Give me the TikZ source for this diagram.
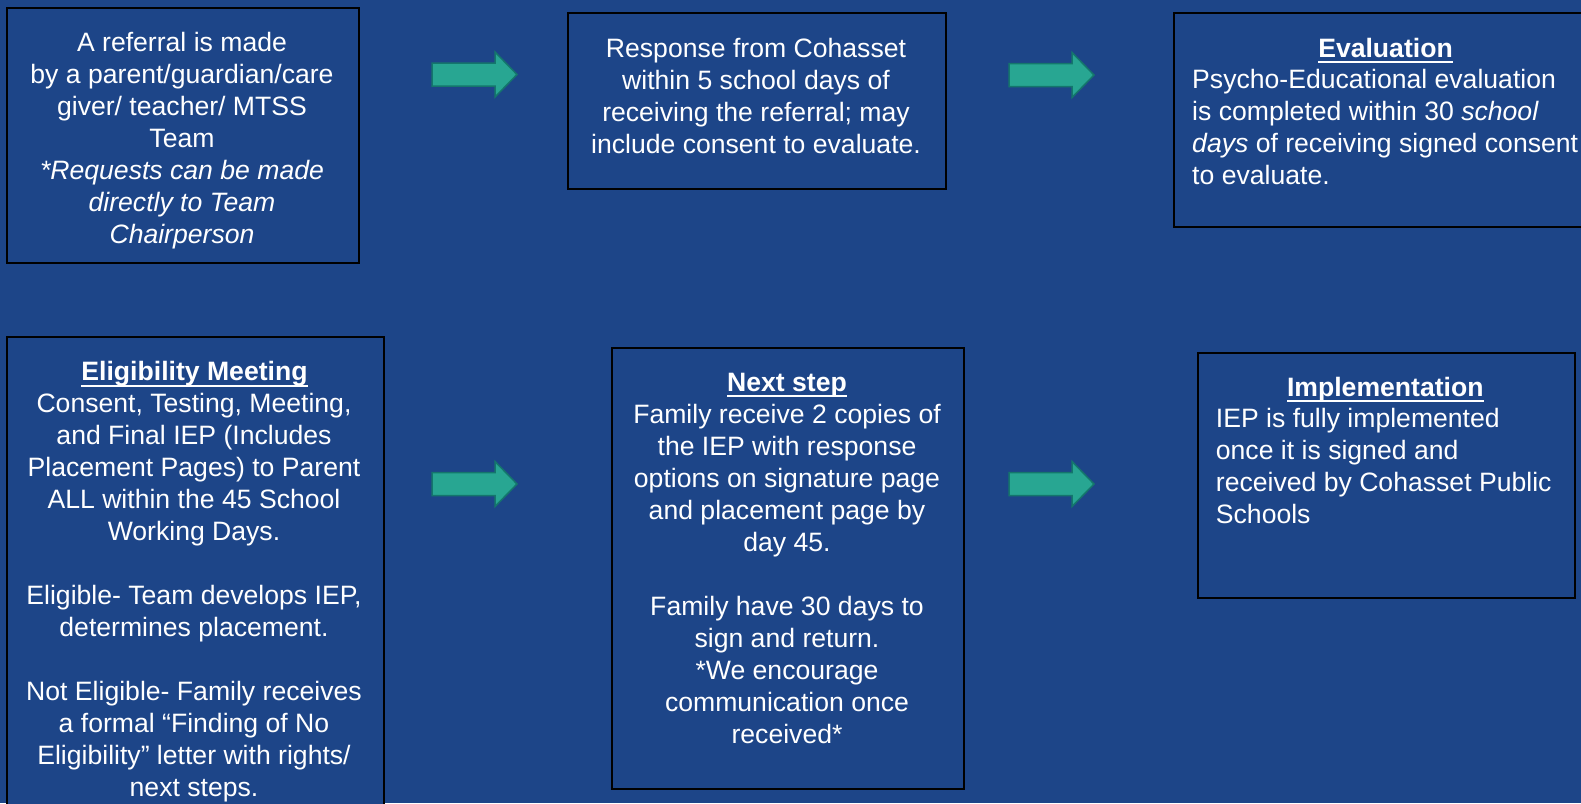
\documentclass[tikz,border=0pt]{standalone}
\usepackage{fontspec}
\setmainfont{Liberation Sans}
\definecolor{bg}{RGB}{29,69,136}
\definecolor{arrfill}{RGB}{40,166,146}
\definecolor{arrline}{RGB}{20,118,108}
\newcommand{\fl}{\rule{0pt}{20pt}}
\newcommand{\hdline}[1]{\setbox0=\hbox{\bfseries #1}\rlap{\rule[-6pt]{\wd0}{2pt}}\box0}
\tikzset{pics/blkarrow/.style={code={%
  \draw[blockarrow] (0,-11.5) -- (63,-11.5) -- (63,-22.5) -- (85,0) -- (63,22.5) -- (63,11.5) -- (0,11.5) -- cycle;}}}
\begin{document}
\begin{tikzpicture}[x=1pt,y=-1pt,
  stepbox/.style={draw=black,line width=1.6pt,fill=bg,inner sep=0pt,anchor=north west},
  txt/.style={inner sep=0pt,text=white,font=\fontsize{26.6}{32}\selectfont},
  ctxt/.style={txt,anchor=north,align=center},
  ltxt/.style={txt,anchor=north west,align=left},
  blockarrow/.style={fill=arrfill,draw=arrline,line width=1.5pt,line join=miter}]
\fill[bg] (0,0) rectangle (1581,803);
\useasboundingbox (0,0) rectangle (1581,803);
% boxes
\node[stepbox,minimum width=352pt,minimum height=255pt] (b1) at (6,7) {};
\node[stepbox,minimum width=378pt,minimum height=176pt] (b2) at (567,12) {};
\node[stepbox,minimum width=420pt,minimum height=214pt] (b3) at (1173,12) {};
\node[stepbox,minimum width=377pt,minimum height=480pt] (b4) at (6,336) {};
\node[stepbox,minimum width=352pt,minimum height=441pt] (b5) at (611,347) {};
\node[stepbox,minimum width=377pt,minimum height=245pt] (b6) at (1197,352) {};
% arrows
\pic (a1) at (432,74.5) {blkarrow};
\pic (a2) at (1009,75) {blkarrow};
\pic (a3) at (432,484) {blkarrow};
\pic (a4) at (1009,484) {blkarrow};
% texts
\node[ctxt] (t1) at (182,30.8) {\fl A referral is made\\by a parent/guardian/care\\giver/ teacher/ MTSS\\Team\\\textit{*Requests can be made}\\\textit{directly to Team}\\\textit{Chairperson}};
\node[ctxt] (t2) at (756,37.5) {\fl Response from Cohasset\\within 5 school days of\\receiving the referral; may\\include consent to evaluate.};
\node[ctxt] (h3) at (1385.5,36.9) {\fl\hdline{Evaluation}};
\node[ltxt] (t3) at (1192,68.1) {\fl Psycho-Educational evaluation\\is completed within 30 \textit{school}\\\textit{days} of receiving signed consent\\to evaluate.};
\node[ctxt] (h4) at (194.5,360.5) {\fl\hdline{Eligibility Meeting}};
\node[ctxt] (t4) at (194,392.5) {\fl Consent, Testing, Meeting,\\and Final IEP (Includes\\Placement Pages) to Parent\\ALL within the 45 School\\Working Days.\\[32pt]Eligible- Team develops IEP,\\determines placement.\\[32pt]Not Eligible- Family receives\\a formal “Finding of No\\Eligibility” letter with rights/\\next steps.};
\node[ctxt] (h5) at (787,371.2) {\fl\hdline{Next step}};
\node[ctxt] (t5) at (787,403.5) {\fl Family receive 2 copies of\\the IEP with response\\options on signature page\\and placement page by\\day 45.\\[32pt]Family have 30 days to\\sign and return.\\\relax*We encourage\\communication once\\received*};
\node[ctxt] (h6) at (1385.3,376) {\fl\hdline{Implementation}};
\node[ltxt] (t6) at (1215.7,406.9) {\fl IEP is fully implemented\\once it is signed and\\received by Cohasset Public\\Schools};
\end{tikzpicture}
\end{document}
